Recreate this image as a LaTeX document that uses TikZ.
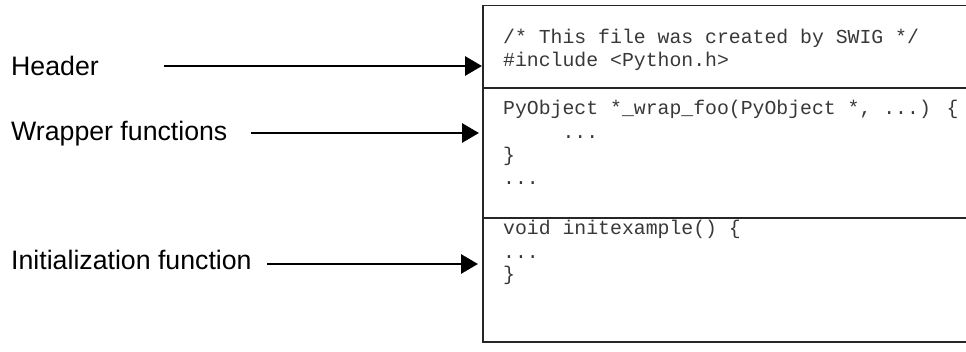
\documentclass[tikz,border=0pt]{standalone}
\usepackage{fontspec}
\setmainfont{Liberation Sans}
\newfontfamily\codefont{Liberation Mono}
\usetikzlibrary{arrows.meta}
\begin{document}
\begin{tikzpicture}[x=1pt,y=-1pt,
  sect/.style={draw=black!85, line width=1.8pt, rectangle, minimum width=520pt, anchor=north west, inner sep=0pt, outer sep=0pt},
  lbl/.style={anchor=base west, inner sep=0pt, font=\fontsize{26.7pt}{30pt}\selectfont},
  code/.style={anchor=base west, inner sep=0pt, text=black!78, font=\codefont\fontsize{19.8pt}{23.5pt}\selectfont},
  arr/.style={line width=2.9pt, -{Triangle[length=17pt,width=19pt]}}]
\useasboundingbox (0,0) rectangle (966,352);
% file sections
\node[sect, minimum height=82.5pt] (hdr) at (483,5.5) {};
\node[sect, minimum height=130pt] (wrap) at (483,88) {};
\node[sect, minimum height=124pt] (init) at (483,218) {};
% code text
\node[code] (h1) at (503,43.3) {/* This file was created by SWIG */};
\node[code] (h2) at (503,66.7) {\#include <Python.h>};
\node[code] (w1) at (503,115) {PyObject *\_wrap\_foo(PyObject *, ...) \{};
\node[code] (w2) at (562.4,138.3) {...};
\node[code] (w3) at (503,162) {\}};
\node[code] (w4) at (503,185) {...};
\node[code] (i1) at (503,235) {void initexample() \{};
\node[code] (i2) at (503,258.5) {...};
\node[code] (i3) at (503,281) {\}};
% labels
\node[lbl] (lh) at (11,75.5) {Header};
\node[lbl] (lw) at (11,141) {Wrapper functions};
\node[lbl] (li) at (11,270) {Initialization function};
% arrows
\coordinate (ha) at (164,66);
\coordinate (wa) at (251,133);
\coordinate (ia) at (267,264);
\draw[arr] (ha) -- ([xshift=-1pt]hdr.west |- ha);
\draw[arr] (wa) -- ([xshift=-4pt]wrap.west |- wa);
\draw[arr] (ia) -- ([xshift=-5pt]init.west |- ia);
\end{tikzpicture}
\end{document}
